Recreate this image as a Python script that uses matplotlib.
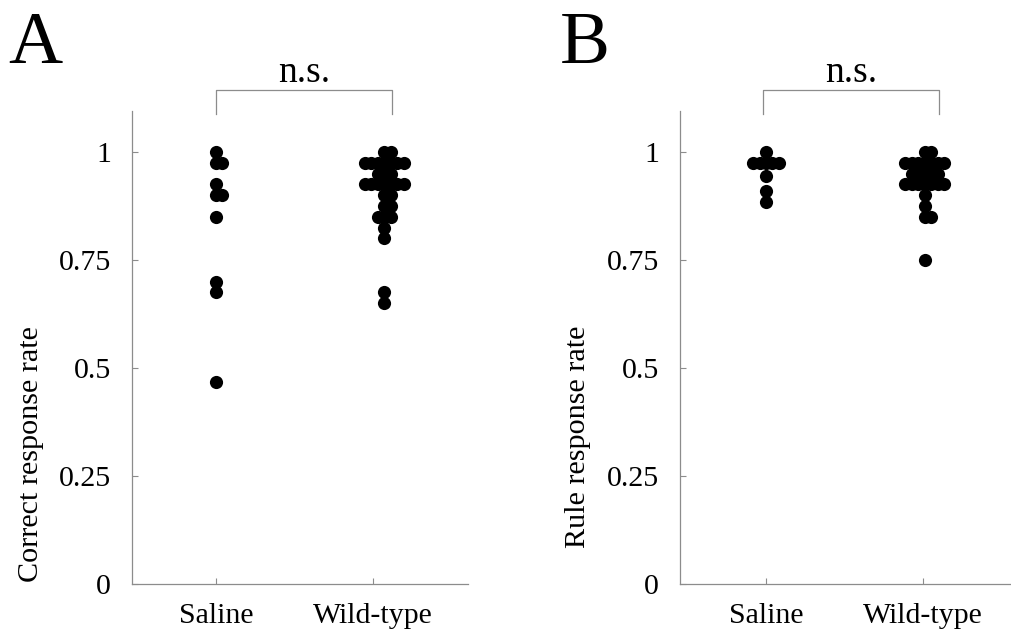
import matplotlib
matplotlib.use("Agg")
import matplotlib.pyplot as plt
from collections import Counter

plt.rcParams['font.family'] = ['Liberation Serif', 'DejaVu Serif']

groups = ['Saline', 'Wild-type']
yticks = [0, 0.25, 0.5, 0.75, 1]
ytick_labels = ['0', '0.25', '0.5', '0.75', '1']

# per-animal rates
correct_saline = [1.0, 0.975, 0.975, 0.925, 0.9, 0.9, 0.85, 0.7, 0.675, 0.467]
correct_wt = ([1.0] * 2 + [0.975] * 7 + [0.95] * 3 + [0.925] * 7 + [0.9] * 2
              + [0.875] * 2 + [0.85] * 3 + [0.825, 0.8, 0.675, 0.65])
rule_saline = [1.0] + [0.975] * 5 + [0.945, 0.91, 0.885]
rule_wt = ([1.0] * 2 + [0.975] * 7 + [0.95] * 5 + [0.925] * 7
           + [0.9, 0.875, 0.85, 0.85, 0.75])

GREY = '#8c8c8c'
STEP = 0.041  # horizontal spacing between tied values


def spread(values, center):
    # tied values are fanned out: center, right, left, right, ...
    seen = Counter()
    xs = []
    for v in values:
        k = seen[v]
        seen[v] += 1
        shift = (k + 1) // 2 if k % 2 else -(k // 2)
        xs.append(center + shift * STEP)
    return xs


def draw_panel(ax, saline, wt, wt_center, ylabel, label_x, letter, letter_x, bracket):
    ax.scatter(spread(saline, 1.0), saline, s=90, color='black', linewidths=0, zorder=3)
    ax.scatter(spread(wt, wt_center), wt, s=90, color='black', linewidths=0, zorder=3)

    ax.set_ylim(0, 1.095)
    ax.set_yticks(yticks)
    ax.set_yticklabels(ytick_labels)
    ax.set_xticks([1, 2])
    ax.set_xticklabels(groups)
    for s in ['top', 'right']:
        ax.spines[s].set_visible(False)
    for s in ['left', 'bottom']:
        ax.spines[s].set_color(GREY)
        ax.spines[s].set_linewidth(0.9)
    ax.tick_params(axis='both', direction='in', length=4, color=GREY, labelsize=21.5)
    ax.tick_params(axis='x', pad=14)
    ax.tick_params(axis='y', pad=15)

    fig.text(label_x, 1 - 326 / 635, ylabel, rotation=90, ha='center', va='top', fontsize=21.7)
    fig.text(letter_x, 1 - 63 / 635, letter, fontsize=54, ha='left', va='baseline')

    x0, x1 = bracket
    ax.plot([x0, x0, x1, x1], [1.088, 1.144, 1.144, 1.088], color=GREY, lw=0.9, clip_on=False)
    ax.text((x0 + x1) / 2, 1.163, 'n.s.', ha='center', va='baseline', fontsize=27)


fig = plt.figure(figsize=(10.11, 6.35), dpi=100)
axA = fig.add_axes([132 / 1011, 51 / 635, 336 / 1011, 473 / 635])
axB = fig.add_axes([680 / 1011, 51 / 635, 331 / 1011, 473 / 635])
axA.set_xlim(0.466, 2.602)
axB.set_xlim(0.452, 2.56)

draw_panel(axA, correct_saline, correct_wt, 2.07, 'Correct response rate', 31 / 1011, 'A', 8 / 1011, (1.0, 2.12))
draw_panel(axB, rule_saline, rule_wt, 2.01, 'Rule response rate', 578 / 1011, 'B', 560 / 1011, (0.98, 2.1))

fig.savefig('out.png', dpi=100)
